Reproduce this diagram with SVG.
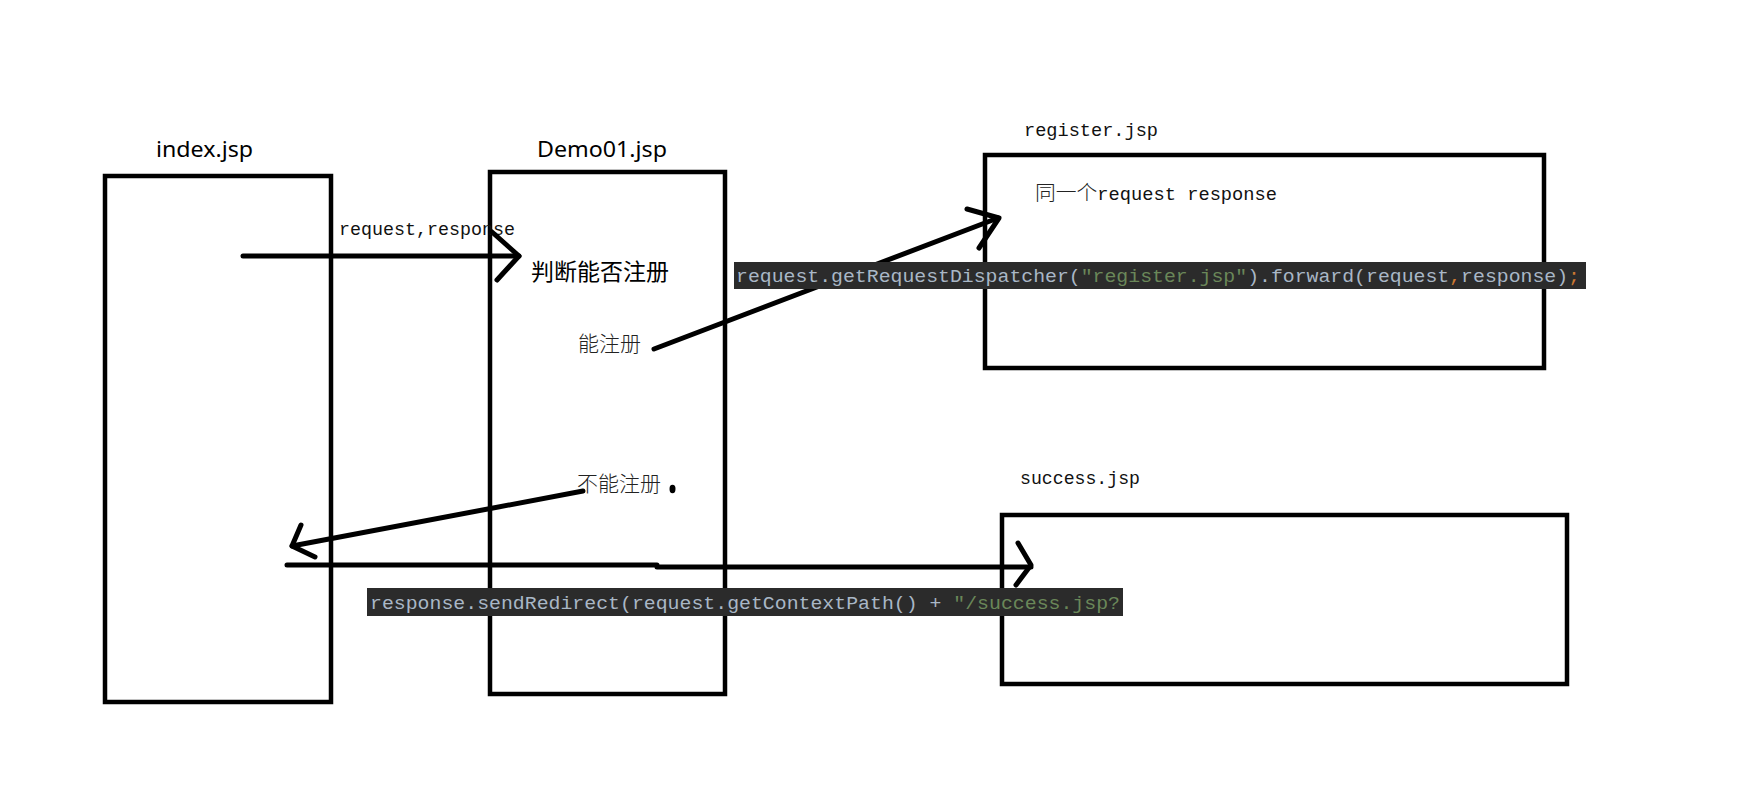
<svg xmlns="http://www.w3.org/2000/svg" width="1764" height="806" viewBox="0 0 1764 806">
<style>
.box{fill:none;stroke:#000;stroke-width:4.5;stroke-linejoin:miter}
.title{font-family:"Noto Sans","Liberation Sans",sans-serif;font-size:22px;fill:#000}
.mono{font-family:"Liberation Mono","Noto Sans CJK SC",monospace;font-size:18px;fill:#111}
.cjk{font-family:"Noto Sans CJK SC","Noto Sans CJK JP",sans-serif;fill:#000}
.cjkl{font-family:"Noto Sans CJK SC","Noto Sans CJK JP",sans-serif;fill:#222;font-weight:300}
.arr{fill:none;stroke:#000;stroke-width:5;stroke-linecap:round;stroke-linejoin:round}
.codebg{fill:#2b2b2b}
.code{font-family:"Liberation Mono",monospace;font-size:19px;fill:#a9b7c6}
.str{fill:#6a8759}
.kw{fill:#cc7832}
</style>
<rect x="0" y="0" width="1764" height="806" fill="#fff"/>
<g id="index">
<rect class="box" x="105" y="176" width="226" height="526"/>
<text class="title" x="156" y="157" textLength="97" lengthAdjust="spacingAndGlyphs">index.jsp</text>
</g>
<g id="demo01">
<rect class="box" x="490" y="172" width="235" height="522"/>
<text class="title" x="537" y="157" textLength="130" lengthAdjust="spacingAndGlyphs">Demo01.jsp</text>
<text class="cjk" x="531" y="280" font-size="23">判断能否注册</text>
<text class="cjkl" x="578" y="351" font-size="21">能注册</text>
<text class="cjkl" x="577" y="491" font-size="21">不能注册</text>
<ellipse cx="672.5" cy="489" rx="3" ry="4.2" fill="#000"/>
</g>
<g id="register">
<rect class="box" x="985" y="155" width="559" height="213"/>
<text class="mono" x="1024" y="136" textLength="134" lengthAdjust="spacingAndGlyphs">register.jsp</text>
<text class="mono" x="1035" y="200" textLength="242" lengthAdjust="spacingAndGlyphs"><tspan class="cjkl" font-size="20">同一个</tspan>request response</text>
</g>
<g id="success">
<rect class="box" x="1002" y="515" width="565" height="169"/>
<text class="mono" x="1020" y="484" textLength="120" lengthAdjust="spacingAndGlyphs">success.jsp</text>
</g>
<g id="connectors">
<text class="mono" x="339" y="235" textLength="176" lengthAdjust="spacingAndGlyphs">request,response</text>
<path class="arr" d="M243 256 L519 256"/>
<path class="arr" d="M492 232 L519 256 L497 280"/>
<path class="arr" d="M654 349 L998 218"/>
<path class="arr" d="M967 209 L999 218 L979 248"/>
<path class="arr" d="M583 491 L292 546"/>
<path class="arr" d="M301 525 L292 546 L315 557"/>
<path class="arr" d="M287 565 L657 565 L657 567 L1031 567"/>
<path class="arr" d="M1018 543 L1031 565 L1016 585"/>
</g>
<g id="code-labels">
<rect class="codebg" x="734" y="262" width="852" height="27"/>
<text class="code" x="736" y="282" textLength="844" lengthAdjust="spacingAndGlyphs">request.getRequestDispatcher(<tspan class="str">"register.jsp"</tspan>).forward(request<tspan class="kw">,</tspan>response)<tspan class="kw">;</tspan></text>
<rect class="codebg" x="367" y="588" width="756" height="28"/>
<text class="code" x="370" y="609" textLength="750" lengthAdjust="spacingAndGlyphs">response.sendRedirect(request.getContextPath() + <tspan class="str">"/success.jsp?</tspan></text>
</g>
</svg>
